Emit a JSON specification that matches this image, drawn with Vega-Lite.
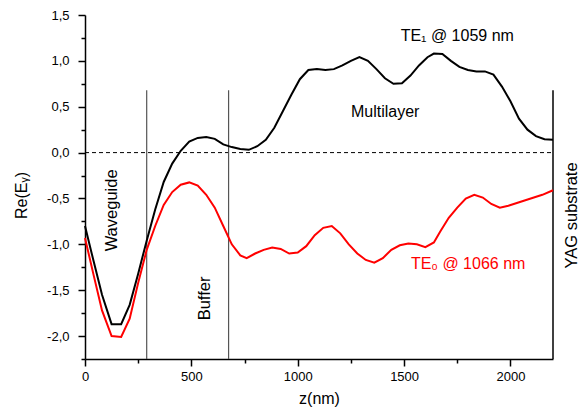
{
  "$schema": "https://vega.github.io/schema/vega-lite/v6.json",
  "width": 468,
  "height": 344,
  "autosize": {"type": "none"},
  "padding": {"left": 85, "top": 15, "right": 26, "bottom": 51},
  "background": "white",
  "config": {
    "view": {"stroke": null},
    "font": "Liberation Sans",
    "axis": {
      "grid": false,
      "domainColor": "black",
      "domainWidth": 1.5,
      "tickColor": "black",
      "tickWidth": 1.5,
      "labelColor": "black",
      "titleColor": "black",
      "labelFont": "Liberation Sans",
      "titleFont": "Liberation Sans",
      "labelFontSize": 13,
      "titleFontSize": 16,
      "titleFontWeight": "normal",
      "labelOverlap": false,
      "labelFlush": false
    }
  },
  "datasets": {
    "curves": [
      {"series": "TE1", "z": 0, "v": -0.8},
      {"series": "TE1", "z": 40, "v": -1.18},
      {"series": "TE1", "z": 80, "v": -1.55},
      {"series": "TE1", "z": 125, "v": -1.87},
      {"series": "TE1", "z": 170, "v": -1.87},
      {"series": "TE1", "z": 210, "v": -1.66},
      {"series": "TE1", "z": 250, "v": -1.32},
      {"series": "TE1", "z": 290, "v": -0.96},
      {"series": "TE1", "z": 330, "v": -0.62},
      {"series": "TE1", "z": 370, "v": -0.32},
      {"series": "TE1", "z": 410, "v": -0.12},
      {"series": "TE1", "z": 450, "v": 0.02},
      {"series": "TE1", "z": 490, "v": 0.12},
      {"series": "TE1", "z": 530, "v": 0.16},
      {"series": "TE1", "z": 570, "v": 0.17},
      {"series": "TE1", "z": 610, "v": 0.15},
      {"series": "TE1", "z": 650, "v": 0.09},
      {"series": "TE1", "z": 690, "v": 0.06},
      {"series": "TE1", "z": 730, "v": 0.04},
      {"series": "TE1", "z": 770, "v": 0.03},
      {"series": "TE1", "z": 810, "v": 0.07},
      {"series": "TE1", "z": 850, "v": 0.14},
      {"series": "TE1", "z": 890, "v": 0.27},
      {"series": "TE1", "z": 930, "v": 0.45},
      {"series": "TE1", "z": 970, "v": 0.63},
      {"series": "TE1", "z": 1010, "v": 0.8},
      {"series": "TE1", "z": 1050, "v": 0.9},
      {"series": "TE1", "z": 1090, "v": 0.91},
      {"series": "TE1", "z": 1130, "v": 0.9},
      {"series": "TE1", "z": 1170, "v": 0.91},
      {"series": "TE1", "z": 1210, "v": 0.95},
      {"series": "TE1", "z": 1250, "v": 1.0},
      {"series": "TE1", "z": 1290, "v": 1.04},
      {"series": "TE1", "z": 1330, "v": 1.0},
      {"series": "TE1", "z": 1370, "v": 0.91},
      {"series": "TE1", "z": 1410, "v": 0.81},
      {"series": "TE1", "z": 1450, "v": 0.75},
      {"series": "TE1", "z": 1490, "v": 0.755},
      {"series": "TE1", "z": 1530, "v": 0.84},
      {"series": "TE1", "z": 1570, "v": 0.95},
      {"series": "TE1", "z": 1610, "v": 1.04},
      {"series": "TE1", "z": 1640, "v": 1.08},
      {"series": "TE1", "z": 1680, "v": 1.075},
      {"series": "TE1", "z": 1720, "v": 1.0},
      {"series": "TE1", "z": 1760, "v": 0.935},
      {"series": "TE1", "z": 1800, "v": 0.9},
      {"series": "TE1", "z": 1840, "v": 0.885},
      {"series": "TE1", "z": 1880, "v": 0.885},
      {"series": "TE1", "z": 1920, "v": 0.85},
      {"series": "TE1", "z": 1960, "v": 0.72},
      {"series": "TE1", "z": 2000, "v": 0.56},
      {"series": "TE1", "z": 2040, "v": 0.37},
      {"series": "TE1", "z": 2080, "v": 0.25},
      {"series": "TE1", "z": 2120, "v": 0.18},
      {"series": "TE1", "z": 2160, "v": 0.145},
      {"series": "TE1", "z": 2200, "v": 0.14},
      {"series": "TE0", "z": 0, "v": -0.93},
      {"series": "TE0", "z": 40, "v": -1.33},
      {"series": "TE0", "z": 80, "v": -1.72},
      {"series": "TE0", "z": 125, "v": -2.0},
      {"series": "TE0", "z": 170, "v": -2.01},
      {"series": "TE0", "z": 210, "v": -1.81},
      {"series": "TE0", "z": 250, "v": -1.42},
      {"series": "TE0", "z": 290, "v": -1.06},
      {"series": "TE0", "z": 330, "v": -0.8},
      {"series": "TE0", "z": 370, "v": -0.57},
      {"series": "TE0", "z": 410, "v": -0.43},
      {"series": "TE0", "z": 450, "v": -0.35},
      {"series": "TE0", "z": 490, "v": -0.325},
      {"series": "TE0", "z": 530, "v": -0.36},
      {"series": "TE0", "z": 570, "v": -0.46},
      {"series": "TE0", "z": 610, "v": -0.6},
      {"series": "TE0", "z": 650, "v": -0.8},
      {"series": "TE0", "z": 690, "v": -1.0},
      {"series": "TE0", "z": 730, "v": -1.12},
      {"series": "TE0", "z": 760, "v": -1.15},
      {"series": "TE0", "z": 800, "v": -1.1},
      {"series": "TE0", "z": 840, "v": -1.06},
      {"series": "TE0", "z": 880, "v": -1.035},
      {"series": "TE0", "z": 920, "v": -1.05},
      {"series": "TE0", "z": 960, "v": -1.1},
      {"series": "TE0", "z": 1000, "v": -1.09},
      {"series": "TE0", "z": 1040, "v": -1.02},
      {"series": "TE0", "z": 1080, "v": -0.9},
      {"series": "TE0", "z": 1120, "v": -0.82},
      {"series": "TE0", "z": 1160, "v": -0.8},
      {"series": "TE0", "z": 1200, "v": -0.88},
      {"series": "TE0", "z": 1240, "v": -1.0},
      {"series": "TE0", "z": 1280, "v": -1.1},
      {"series": "TE0", "z": 1320, "v": -1.17},
      {"series": "TE0", "z": 1360, "v": -1.2},
      {"series": "TE0", "z": 1400, "v": -1.15},
      {"series": "TE0", "z": 1440, "v": -1.06},
      {"series": "TE0", "z": 1480, "v": -1.01},
      {"series": "TE0", "z": 1520, "v": -0.99},
      {"series": "TE0", "z": 1560, "v": -1.0},
      {"series": "TE0", "z": 1600, "v": -1.03},
      {"series": "TE0", "z": 1640, "v": -0.98},
      {"series": "TE0", "z": 1670, "v": -0.86},
      {"series": "TE0", "z": 1710, "v": -0.71},
      {"series": "TE0", "z": 1750, "v": -0.6},
      {"series": "TE0", "z": 1790, "v": -0.5},
      {"series": "TE0", "z": 1830, "v": -0.46},
      {"series": "TE0", "z": 1870, "v": -0.49},
      {"series": "TE0", "z": 1910, "v": -0.56},
      {"series": "TE0", "z": 1950, "v": -0.6},
      {"series": "TE0", "z": 1990, "v": -0.58},
      {"series": "TE0", "z": 2030, "v": -0.55},
      {"series": "TE0", "z": 2070, "v": -0.52},
      {"series": "TE0", "z": 2110, "v": -0.49},
      {"series": "TE0", "z": 2150, "v": -0.46},
      {"series": "TE0", "z": 2200, "v": -0.41}
    ]
  },
  "encoding": {
    "x": {
      "field": "z",
      "type": "quantitative",
      "scale": {"domain": [0, 2200], "nice": false, "zero": false},
      "axis": {
        "title": "z(nm)",
        "values": [0, 250, 500, 750, 1000, 1250, 1500, 1750, 2000],
        "format": "d",
        "labelExpr": "datum.value % 500 === 0 ? datum.label : ''",
        "tickSize": {"condition": {"test": "datum.value % 500 === 0", "value": 7}, "value": 4},
        "labelPadding": 4,
        "titlePadding": 7
      }
    },
    "y": {
      "field": "v",
      "type": "quantitative",
      "scale": {"domain": [-2.25, 1.5], "nice": false, "zero": false},
      "axis": {
        "title": "Re(Eᵧ)",
        "values": [-2.25, -2, -1.75, -1.5, -1.25, -1, -0.75, -0.5, -0.25, 0, 0.25, 0.5, 0.75, 1, 1.25, 1.5],
        "labelExpr": "abs(datum.value * 2 - round(datum.value * 2)) < 0.001 ? (datum.value < 0 ? '-' : '') + replace(format(abs(datum.value), '.1f'), '.', ',') : ''",
        "tickSize": {"condition": {"test": "abs(datum.value * 2 - round(datum.value * 2)) < 0.001", "value": 7}, "value": 4},
        "labelPadding": 9,
        "titlePadding": 17,
        "titleY": 180
      }
    }
  },
  "layer": [
    {
      "data": {"values": [{"z": 0, "z2": 2200, "v": 0}]},
      "mark": {"type": "rule", "color": "black", "strokeWidth": 1, "strokeDash": [4, 3]},
      "encoding": {"x2": {"field": "z2"}}
    },
    {
      "data": {"values": [{"z": 290, "v": 0.68, "v2": -2.25}, {"z": 675, "v": 0.68, "v2": -2.25}]},
      "mark": {"type": "rule", "color": "#555555", "strokeWidth": 1.2},
      "encoding": {"y2": {"field": "v2"}}
    },
    {
      "data": {"values": [{"z": 2200, "v": 0.68, "v2": -2.25}]},
      "mark": {"type": "rule", "color": "black", "strokeWidth": 1.5},
      "encoding": {"y2": {"field": "v2"}}
    },
    {
      "data": {"name": "curves"},
      "mark": {"type": "line", "strokeWidth": 2},
      "encoding": {
        "color": {"field": "series", "type": "nominal", "scale": {"domain": ["TE1", "TE0"], "range": ["black", "#ff0000"]}, "legend": null}
      }
    },
    {
      "data": {"values": [{"z": 1750, "v": 1.27, "t": "TE₁ @ 1059 nm"}, {"z": 1411, "v": 0.44, "t": "Multilayer"}]},
      "mark": {"type": "text", "font": "Liberation Sans", "fontSize": 16, "color": "black", "align": "center", "baseline": "middle"},
      "encoding": {"text": {"field": "t"}}
    },
    {
      "data": {"values": [{"z": 1801, "v": -1.21, "t": "TE₀ @ 1066 nm"}]},
      "mark": {"type": "text", "font": "Liberation Sans", "fontSize": 16, "color": "#ff0000", "align": "center", "baseline": "middle"},
      "encoding": {"text": {"field": "t"}}
    },
    {
      "data": {"values": [{"z": 128, "v": -0.63, "t": "Waveguide"}, {"z": 564, "v": -1.59, "t": "Buffer"}, {"z": 2291, "v": -0.685, "t": "YAG substrate"}]},
      "mark": {"type": "text", "font": "Liberation Sans", "fontSize": 16.5, "color": "black", "align": "center", "baseline": "middle", "angle": 270},
      "encoding": {"text": {"field": "t"}}
    }
  ]
}
